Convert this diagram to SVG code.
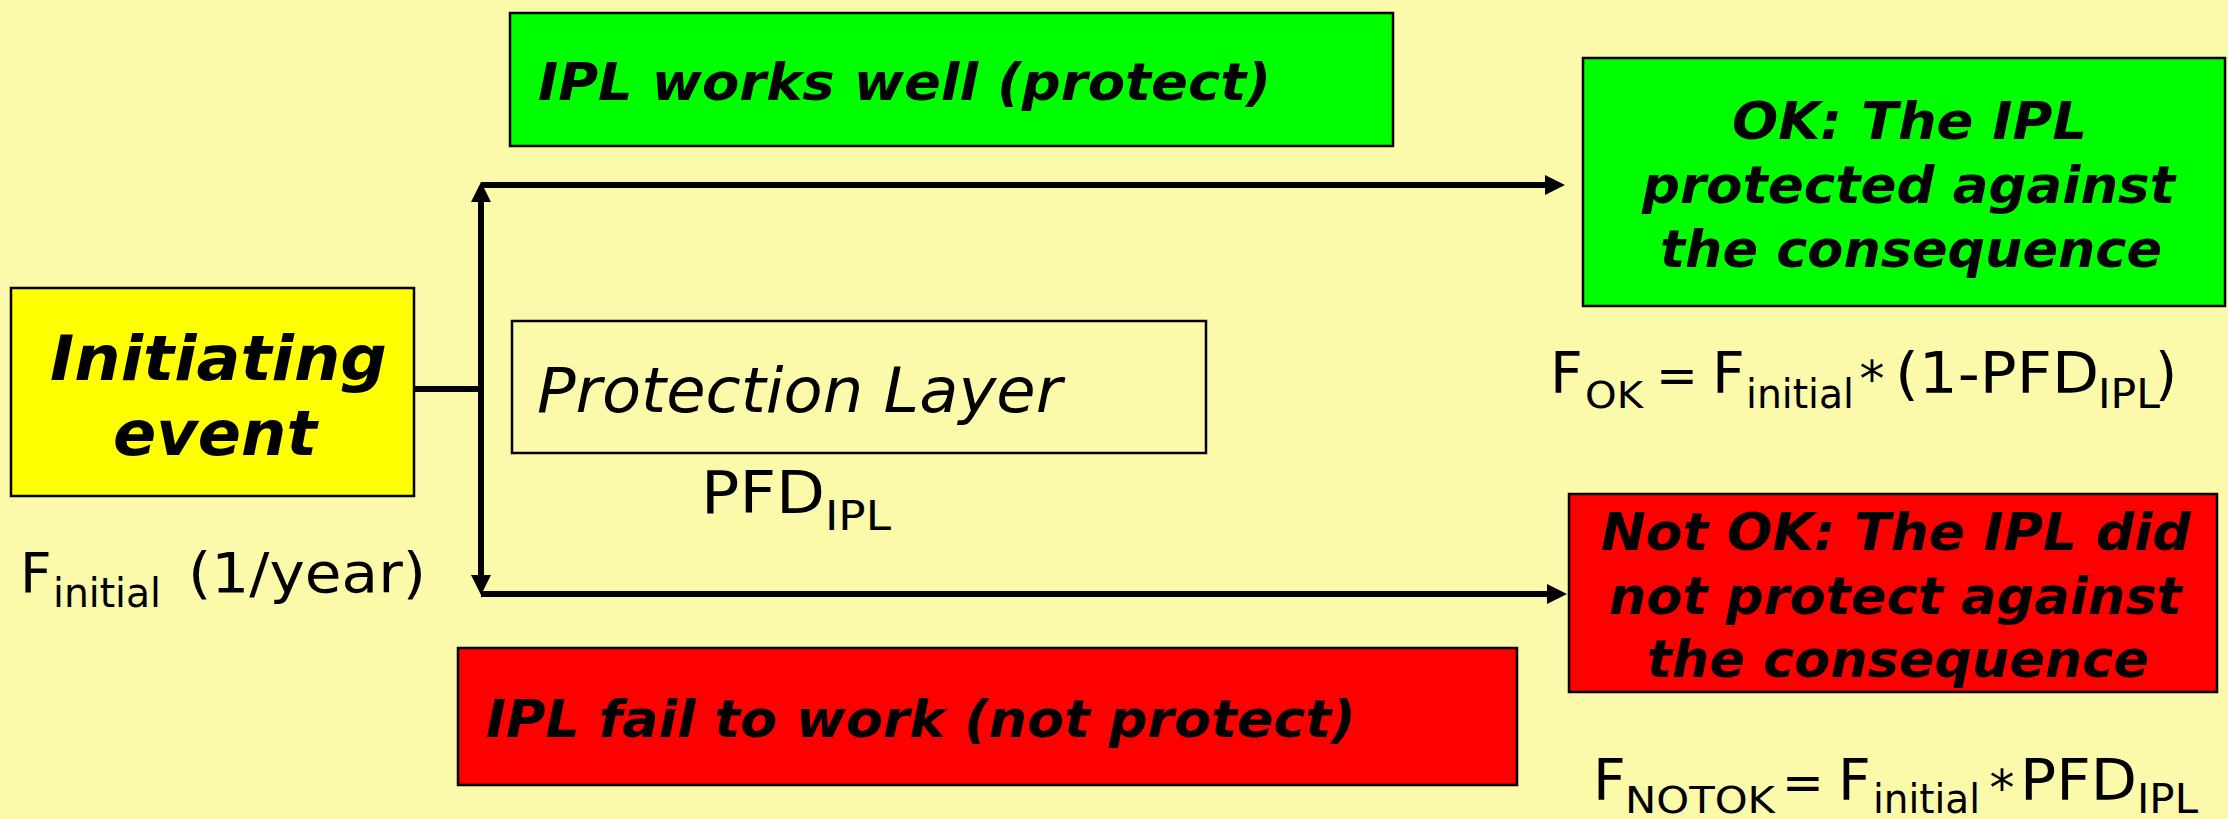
<svg xmlns="http://www.w3.org/2000/svg" width="2228" height="819" viewBox="0 0 2228 819">
  <defs>
    <style>
      .box { stroke: #000; stroke-width: 2.5; }
      .bi { font-family: "DejaVu Sans", Verdana, sans-serif; font-weight: bold; font-style: italic; fill: #000; }
      .it { font-family: "DejaVu Sans", Verdana, sans-serif; font-style: italic; fill: #000; }
      .f { font-family: "DejaVu Sans", Verdana, sans-serif; fill: #000; }
      .wire { fill: none; stroke: #000; stroke-width: 6; }
    </style>
    <marker id="head" viewBox="0 0 20 20" refX="0" refY="10" markerWidth="20" markerHeight="20" markerUnits="userSpaceOnUse" orient="auto">
      <path d="M0,0 L20,10 L0,20 z" fill="#000"/>
    </marker>
  </defs>

  <rect width="2228" height="819" fill="#FAFAAA"/>

  <!-- Initiating event -->
  <g id="initiating-event">
    <rect class="box" x="11" y="288" width="403" height="208" fill="#FFFF00"/>
    <text class="bi" x="50" y="380" font-size="62" textLength="337" lengthAdjust="spacingAndGlyphs">Initiating</text>
    <text class="bi" x="113" y="455" font-size="62" textLength="204" lengthAdjust="spacingAndGlyphs">event</text>
    <text class="f" x="20" y="592" font-size="55">F</text>
    <text class="f" x="53" y="607" font-size="41" textLength="108" lengthAdjust="spacingAndGlyphs">initial</text>
    <text class="f" x="188" y="592" font-size="56" textLength="238" lengthAdjust="spacingAndGlyphs">(1/year)</text>
  </g>

  <!-- Upper branch label -->
  <g id="ipl-works">
    <rect class="box" x="510" y="13" width="883" height="133" fill="#00FF00"/>
    <text class="bi" x="538" y="100" font-size="52" textLength="733" lengthAdjust="spacingAndGlyphs">IPL works well (protect)</text>
  </g>

  <!-- Protection layer -->
  <g id="protection-layer">
    <rect class="box" x="512" y="321" width="694" height="132" fill="none"/>
    <text class="it" x="537" y="412" font-size="62" textLength="525" lengthAdjust="spacingAndGlyphs">Protection Layer</text>
    <text class="f" x="701" y="513" font-size="59" textLength="124" lengthAdjust="spacingAndGlyphs">PFD</text>
    <text class="f" x="825" y="530" font-size="41" textLength="66" lengthAdjust="spacingAndGlyphs">IPL</text>
  </g>

  <!-- Lower branch label -->
  <g id="ipl-fails">
    <rect class="box" x="458" y="648" width="1059" height="137" fill="#FF0000"/>
    <text class="bi" x="486" y="737" font-size="52" textLength="870" lengthAdjust="spacingAndGlyphs">IPL fail to work (not protect)</text>
  </g>

  <!-- Outcome: protected -->
  <g id="outcome-ok">
    <rect class="box" x="1583" y="58" width="642" height="248" fill="#00FF00"/>
    <text class="bi" x="1732" y="139" font-size="51" textLength="355" lengthAdjust="spacingAndGlyphs">OK: The IPL</text>
    <text class="bi" x="1642" y="203" font-size="51" textLength="533" lengthAdjust="spacingAndGlyphs">protected against</text>
    <text class="bi" x="1660" y="267" font-size="51" textLength="502" lengthAdjust="spacingAndGlyphs">the consequence</text>
    <text class="f" x="1550" y="393" font-size="57">F</text>
    <text class="f" x="1585" y="408" font-size="38" textLength="58" lengthAdjust="spacingAndGlyphs">OK</text>
    <text class="f" x="1677" y="393" font-size="50" text-anchor="middle">=</text>
    <text class="f" x="1712" y="393" font-size="57">F</text>
    <text class="f" x="1746" y="408" font-size="41" textLength="108" lengthAdjust="spacingAndGlyphs">initial</text>
    <text class="f" x="1872" y="396" font-size="50" text-anchor="middle">*</text>
    <text class="f" x="1895" y="393" font-size="57" textLength="204" lengthAdjust="spacingAndGlyphs">(1-PFD</text>
    <text class="f" x="2098" y="408" font-size="40" textLength="62" lengthAdjust="spacingAndGlyphs">IPL</text>
    <text class="f" x="2155" y="393" font-size="57">)</text>
  </g>

  <!-- Outcome: not protected -->
  <g id="outcome-not-ok">
    <rect class="box" x="1569" y="494" width="648" height="198" fill="#FF0000"/>
    <text class="bi" x="1601" y="550" font-size="51" textLength="590" lengthAdjust="spacingAndGlyphs">Not OK: The IPL did</text>
    <text class="bi" x="1609" y="614" font-size="51" textLength="573" lengthAdjust="spacingAndGlyphs">not protect against</text>
    <text class="bi" x="1647" y="677" font-size="51" textLength="502" lengthAdjust="spacingAndGlyphs">the consequence</text>
    <text class="f" x="1593" y="800" font-size="57">F</text>
    <text class="f" x="1625" y="813" font-size="38" textLength="150" lengthAdjust="spacingAndGlyphs">NOTOK</text>
    <text class="f" x="1803" y="800" font-size="50" text-anchor="middle">=</text>
    <text class="f" x="1838" y="800" font-size="57">F</text>
    <text class="f" x="1873" y="813" font-size="40" textLength="107" lengthAdjust="spacingAndGlyphs">initial</text>
    <text class="f" x="2002" y="805" font-size="50" text-anchor="middle">*</text>
    <text class="f" x="2020" y="800" font-size="57" textLength="117" lengthAdjust="spacingAndGlyphs">PFD</text>
    <text class="f" x="2137" y="813" font-size="40" textLength="61" lengthAdjust="spacingAndGlyphs">IPL</text>
  </g>

  <!-- Event tree branches -->
  <g id="connectors">
    <path class="wire" d="M414,389 H484"/>
    <path class="wire" d="M481,389 V202" marker-end="url(#head)"/>
    <path class="wire" d="M481,389 V575" marker-end="url(#head)"/>
    <path class="wire" d="M481,185 H1545" marker-end="url(#head)"/>
    <path class="wire" d="M481,594 H1547" marker-end="url(#head)"/>
  </g>
</svg>
